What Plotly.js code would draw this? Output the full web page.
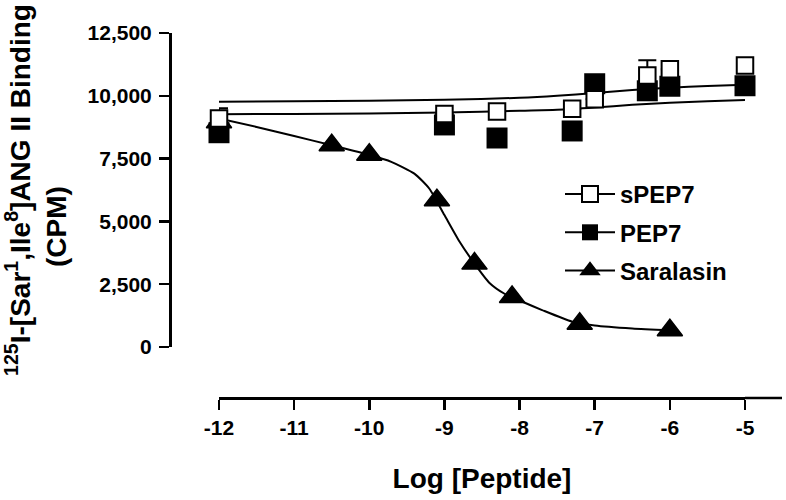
<!DOCTYPE html>
<html>
<head>
<meta charset="utf-8">
<script src="https://cdn.plot.ly/plotly-3.0.1.min.js"></script>
<style>
  html, body { margin: 0; padding: 0; background: #fff; }
  #chart { width: 786px; height: 500px; }
</style>
</head>
<body>
<div id="chart"></div>
<script>
// ---- data ----
const doseX      = [-12, -9, -8.3, -7.3, -7, -6.3, -6, -5];
const sPEP7      = [9100, 9275, 9375, 9480, 9860, 10810, 11060, 11210];
const sPEP7Err   = [400, 0, 0, 0, 0, 610, 0, 0];
const PEP7       = [8530, 8840, 8320, 8600, 10480, 10200, 10380, 10400];

const saraX      = [-12, -10.5, -10, -9.1, -8.6, -8.1, -7.2, -6];
const saralasin  = [8950, 8030, 7650, 5840, 3320, 1990, 930, 665];

// fitted curves
const fitX       = [-12, -11, -10, -9, -8, -7.5, -7, -6.5, -6, -5.5, -5];
const fitSPEP7   = [9765, 9785, 9805, 9840, 9920, 10000, 10110, 10230, 10320, 10390, 10440];
const fitPEP7    = [9263, 9280, 9300, 9340, 9400, 9440, 9530, 9640, 9720, 9785, 9833];
const fitSaraX   = [-12, -11.5, -11, -10.5, -10, -9.7, -9.4, -9.2, -9.0, -8.8, -8.6, -8.4, -8.2, -8.0, -7.7, -7.3, -7.0, -6.5, -6.0];
const fitSara    = [9100, 8760, 8400, 8030, 7650, 7360, 6900, 6300, 5250, 4200, 3320, 2550, 2120, 1850, 1470, 1010, 860, 740, 665];

const xTickVals  = [-12, -11, -10, -9, -8, -7, -6, -5];
const xTickText  = ['-12', '-11', '-10', '-9', '-8', '-7', '-6', '-5'];
const yTickVals  = [0, 2500, 5000, 7500, 10000, 12500];
const yTickText  = ['0', '2,500', '5,000', '7,500', '10,000', '12,500'];

const seriesNames = ['sPEP7', 'PEP7', 'Saralasin'];

// ---- helpers ----
// isolate points with gaps so no segments are drawn, but legend shows a line
function gapped(arr) {
  const out = [];
  arr.forEach((v, i) => { if (i) out.push(null); out.push(v); });
  return out;
}

const FONT = 'Liberation Sans, Arial, sans-serif';
const BLACK = '#000';

const curveLine = { color: BLACK, width: 2, shape: 'spline', smoothing: 0.6 };

const traces = [
  { x: fitX, y: fitSPEP7, mode: 'lines', line: curveLine, showlegend: false, hoverinfo: 'skip' },
  { x: fitX, y: fitPEP7, mode: 'lines', line: curveLine, showlegend: false, hoverinfo: 'skip' },
  { x: fitSaraX, y: fitSara, mode: 'lines', line: curveLine, showlegend: false, hoverinfo: 'skip' },
  {
    name: seriesNames[2], legendgroup: 'g3', legendrank: 3,
    x: gapped(saraX), y: gapped(saralasin), mode: 'lines+markers',
    line: { color: BLACK, width: 2 },
    marker: { symbol: 'triangle-up', size: 22, color: BLACK, line: { color: BLACK, width: 1.5 } },
    cliponaxis: false
  },
  {
    name: seriesNames[1], legendgroup: 'g2', legendrank: 2,
    x: gapped(doseX), y: gapped(PEP7), mode: 'lines+markers',
    line: { color: BLACK, width: 2 },
    marker: { symbol: 'square', size: 21, color: BLACK, line: { width: 0 } },
    cliponaxis: false
  },
  {
    name: seriesNames[0], legendgroup: 'g1', legendrank: 1,
    x: gapped(doseX), y: gapped(sPEP7), mode: 'lines+markers',
    line: { color: BLACK, width: 2 },
    marker: { symbol: 'square', size: 16.5, color: '#fff', line: { color: BLACK, width: 2 } },
    error_y: { type: 'data', array: gapped(sPEP7Err), visible: true, color: BLACK, thickness: 2, width: 9 },
    cliponaxis: false
  }
];

const W = 786, H = 500;
const plotL = 170, plotR = 782, plotT = 33, plotB = 398;
const pw = plotR - plotL, ph = plotB - plotT;

const layout = {
  width: W, height: H,
  margin: { l: plotL, r: W - plotR, t: plotT, b: H - plotB, pad: 0 },
  paper_bgcolor: '#fff', plot_bgcolor: 'rgba(0,0,0,0)',
  font: { family: FONT, color: BLACK, size: 21, weight: 'bold' },
  showlegend: true,
  xaxis: {
    domain: [(219 - plotL) / pw, (745 - plotL) / pw],
    range: [-12, -5],
    anchor: 'free', position: 0,
    tickmode: 'array', tickvals: xTickVals, ticktext: xTickText,
    ticks: 'outside', ticklen: 10, tickwidth: 2.5, tickcolor: BLACK,
    showline: true, linewidth: 2.5, linecolor: BLACK,
    showgrid: false, zeroline: false, automargin: false,
    tickfont: { family: FONT, size: 21, weight: 'bold', color: BLACK },
    title: { text: 'Log [Peptide]', standoff: 30, font: { family: FONT, size: 28, weight: 'bold', color: BLACK } }
  },
  yaxis: {
    domain: [(plotB - 347) / ph, 1],
    range: [0, 12500],
    anchor: 'free', position: 0,
    tickmode: 'array', tickvals: yTickVals, ticktext: yTickText,
    ticks: 'outside', ticklen: 10, tickwidth: 2.5, tickcolor: BLACK,
    showline: true, linewidth: 2.5, linecolor: BLACK,
    showgrid: false, zeroline: false, automargin: false,
    ticklabelstandoff: 3,
    tickfont: { family: FONT, size: 21, weight: 'bold', color: BLACK },
    title: { text: '<sup>125</sup>I-[Sar<sup>1</sup>,Ile<sup>8</sup>]ANG II Binding', standoff: 52,
             font: { family: FONT, size: 28, weight: 'bold', color: BLACK } }
  },
  annotations: [{
    text: '(CPM)', xref: 'paper', yref: 'paper',
    x: (56 - plotL) / pw, y: (plotB - 227) / ph,
    xanchor: 'center', yanchor: 'middle', textangle: -90, showarrow: false,
    font: { family: FONT, size: 28, weight: 'bold', color: BLACK }
  }],
  shapes: [{
    type: 'line', xref: 'paper', yref: 'paper',
    x0: (745 - plotL) / pw, x1: 1, y0: 0, y1: 0,
    line: { color: BLACK, width: 2.5 }
  }],
  legend: {
    x: (560 - plotL) / pw, y: (plotB - 172) / ph, xanchor: 'left', yanchor: 'top',
    traceorder: 'grouped', tracegroupgap: 4, itemwidth: 50,
    bgcolor: 'rgba(0,0,0,0)', borderwidth: 0,
    font: { family: FONT, size: 24, weight: 'bold', color: BLACK }
  }
};

Plotly.newPlot('chart', traces, layout, { displayModeBar: false, staticPlot: true });
</script>
</body>
</html>
